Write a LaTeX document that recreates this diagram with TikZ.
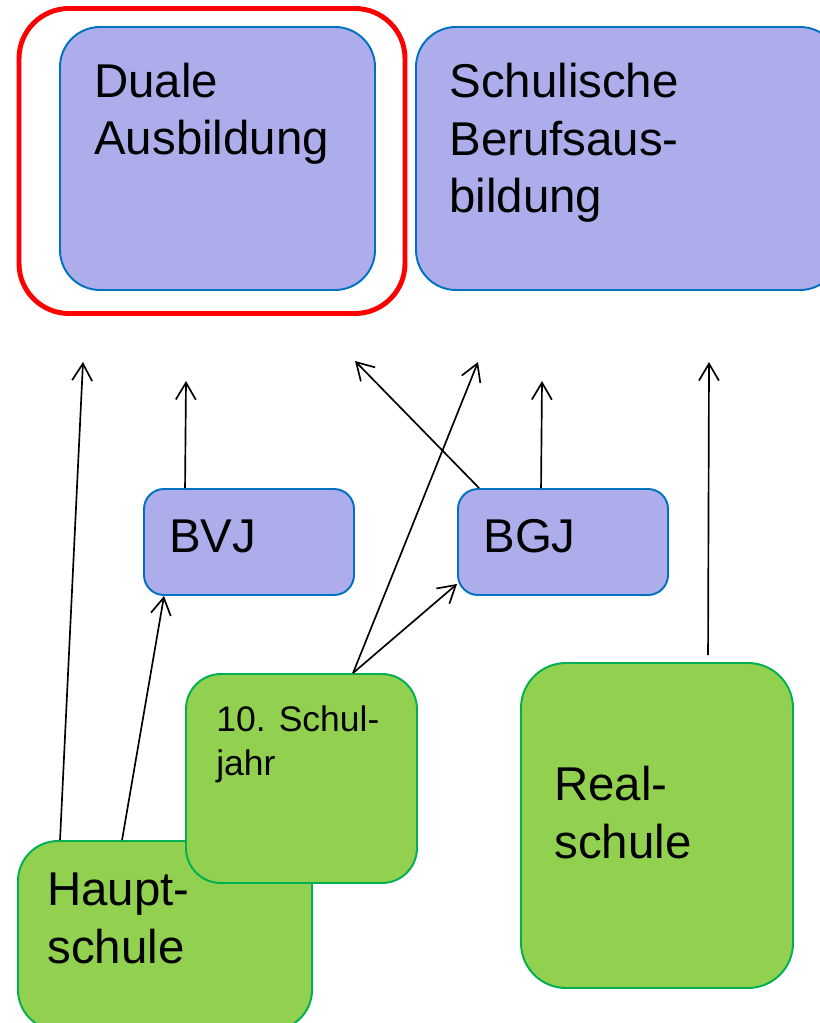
\documentclass[tikz,border=0pt]{standalone}
\usepackage{fontspec}
\setmainfont{Liberation Sans}
\usetikzlibrary{arrows.meta}

\definecolor{boxblue}{RGB}{173,173,235}
\definecolor{lineblue}{RGB}{0,112,192}
\definecolor{boxgreen}{RGB}{146,208,80}
\definecolor{linegreen}{RGB}{0,176,80}

\tikzset{
  stage/.style 2 args={draw=lineblue, fill=boxblue, line width=1.1pt,
    minimum width=#1*0.02cm, minimum height=#2*0.02cm, inner sep=0pt},
  school/.style 2 args={draw=linegreen, fill=boxgreen, line width=1.1pt,
    minimum width=#1*0.02cm, minimum height=#2*0.02cm, inner sep=0pt},
  big/.style={font=\fontsize{27}{33}\selectfont, align=left, anchor=base west, inner sep=0pt},
  small/.style={font=\fontsize{20.2}{25}\selectfont, align=left, anchor=base west, inner sep=0pt},
  link/.style={-{Straight Barb[length=0.34cm,width=0.4cm]}, line width=0.95pt}
}

\begin{document}
\begin{tikzpicture}[x=0.02cm, y=-0.02cm]
  \def\px{0.02cm} % one pixel of the sketch
  \useasboundingbox (0,0) rectangle (819,1023);
  % training paths (text placed at the baseline of its last line)
  \node[draw=red, line width=2.8pt, rounded corners=1cm,
    minimum width=386*\px, minimum height=305*\px] (focus) at (212,161) {};
  \node[stage={315}{263}, rounded corners=0.8cm] (duale) at (217.5,158.5) {};
  \node[big] (duale-t) at (94,155) {Duale\\Ausbildung};
  \node[stage={424}{263}, rounded corners=0.8cm] (schul) at (628,158.5) {};
  \node[big] (schul-t) at (449,213) {Schulische\\Berufsaus-\\bildung};
  % transition years
  \node[stage={210}{106}, rounded corners=0.4cm] (bvj) at (249,542) {};
  \node[big] (bvj-t) at (169,552) {BVJ};
  \node[stage={210}{106}, rounded corners=0.4cm] (bgj) at (563,542) {};
  \node[big] (bgj-t) at (483,552) {BGJ};
  % schools
  \node[school={294}{189}, rounded corners=0.8cm] (haupt) at (165,935.5) {};
  \node[big] (haupt-t) at (47,963) {Haupt-\\schule};
  \node[school={231}{209}, rounded corners=0.7cm] (zehn) at (301.5,778.5) {};
  \node[small] (zehn-t) at (216,775) {10. Schul-\\jahr};
  \node[school={272}{325}, rounded corners=0.9cm] (real) at (657,825.5) {};
  \node[big] (real-t) at (554,858) {Real-\\schule};
  % open arrow ends below the upper row
  \foreach \n/\x/\y in {d1/83/362, d2/186/381, d3/355/361, s1/478/362, s2/542/381, s3/709/362}
    \coordinate (\n) at (\x,\y);
  \draw[link] ([xshift=43*\px]haupt.north west) -- (d1);
  \draw[link] ([xshift=105*\px]haupt.north west) -- ([xshift=21*\px]bvj.south west);
  \draw[link] ([xshift=42*\px]bvj.north west) -- (d2);
  \draw[link] ([xshift=22*\px]bgj.north west) -- (d3);
  \draw[link] ([xshift=168*\px]zehn.north west) -- (s1);
  \draw[link] ([xshift=168*\px]zehn.north west) -- ([yshift=12*\px]bgj.south west);
  \draw[link] ([xshift=84*\px]bgj.north west) -- (s2);
  \draw[link] ([xshift=188*\px,yshift=7*\px]real.north west) -- (s3);
\end{tikzpicture}
\end{document}
